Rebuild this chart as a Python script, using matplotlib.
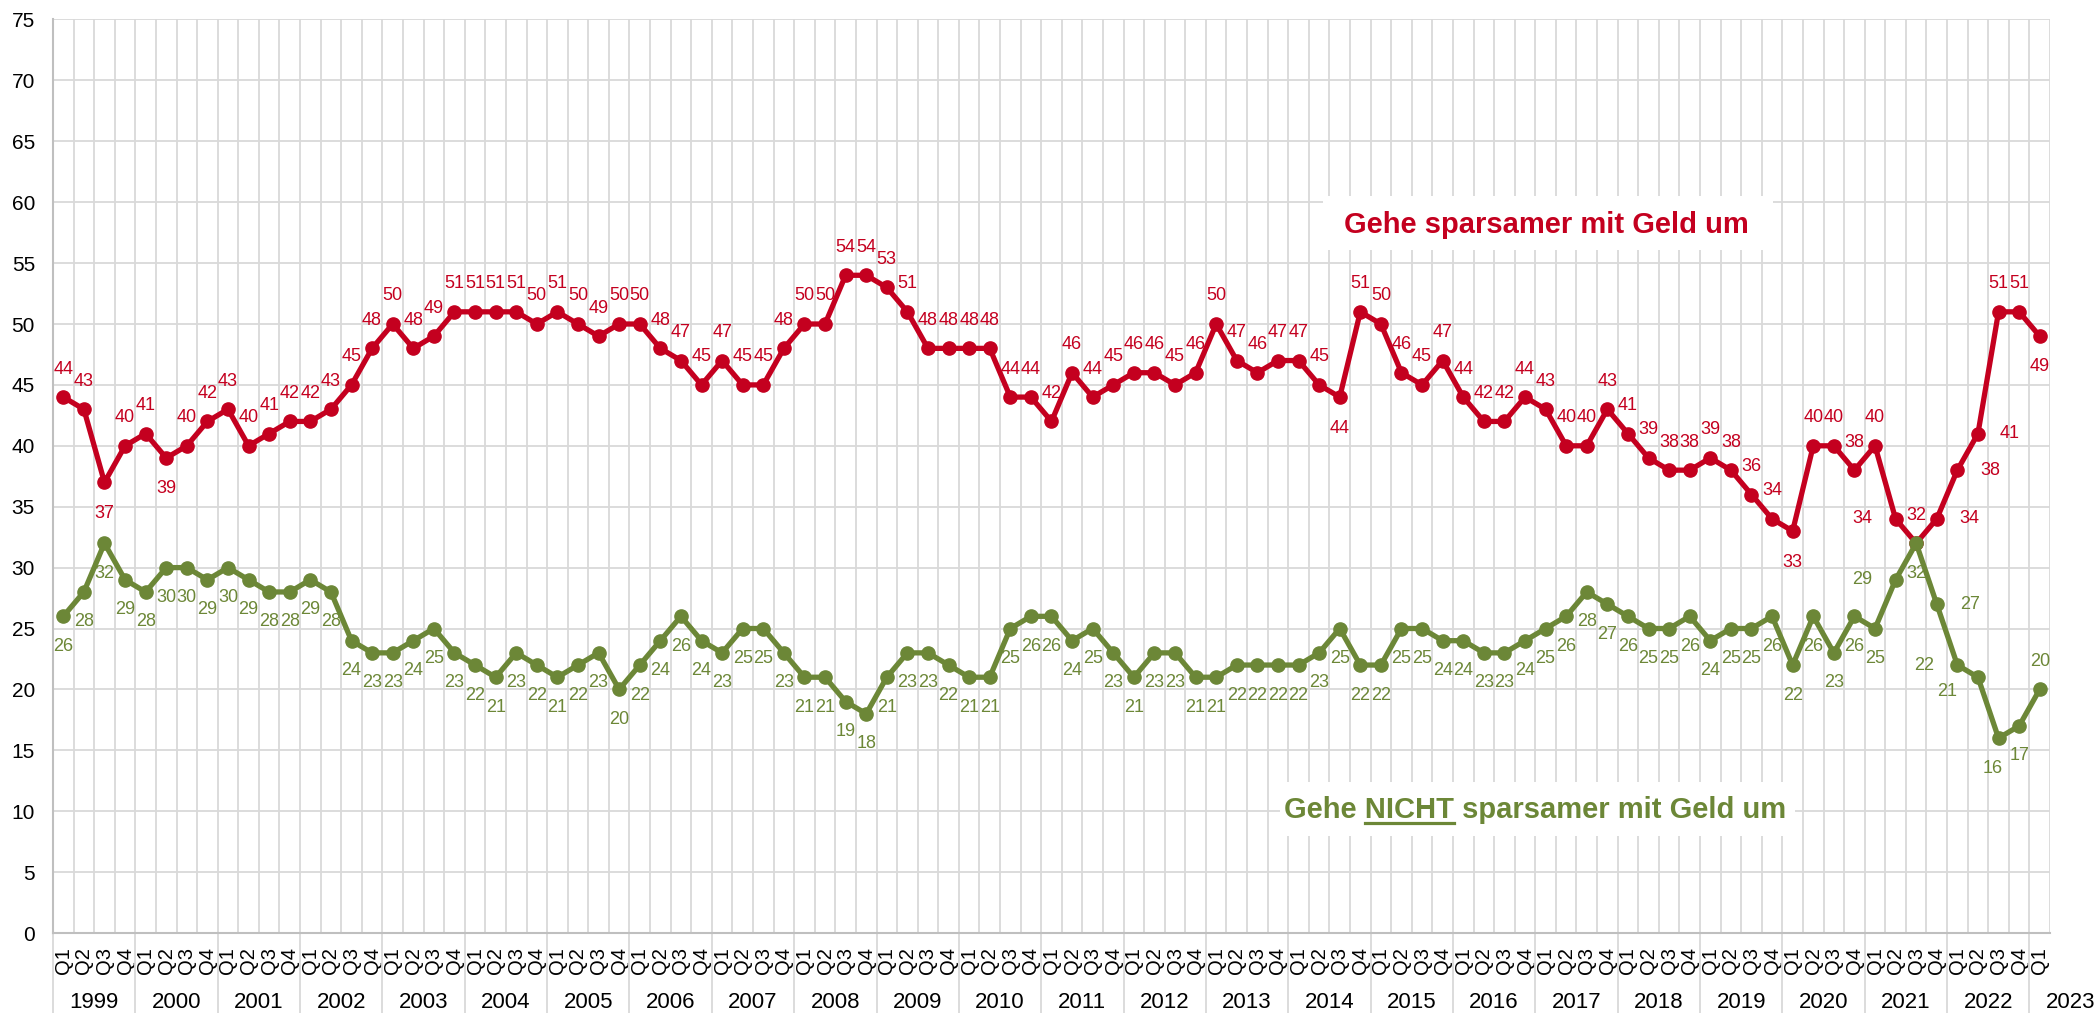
import numpy as np
import matplotlib
matplotlib.use("Agg")
import matplotlib.pyplot as plt
import matplotlib.transforms as mtransforms
from matplotlib.patches import Rectangle

plt.rcParams['font.family'] = ['Liberation Sans', 'DejaVu Sans']

# quarters 1999 Q1 .. 2023 Q1
years = list(range(1999, 2024))
quarter_labels = ['Q1', 'Q2', 'Q3', 'Q4']

sparsamer = [44, 43, 37, 40,  41, 39, 40, 42,  43, 40, 41, 42,  42, 43, 45, 48,
             50, 48, 49, 51,  51, 51, 51, 50,  51, 50, 49, 50,  50, 48, 47, 45,
             47, 45, 45, 48,  50, 50, 54, 54,  53, 51, 48, 48,  48, 48, 44, 44,
             42, 46, 44, 45,  46, 46, 45, 46,  50, 47, 46, 47,  47, 45, 44, 51,
             50, 46, 45, 47,  44, 42, 42, 44,  43, 40, 40, 43,  41, 39, 38, 38,
             39, 38, 36, 34,  33, 40, 40, 38,  40, 34, 32, 34,  38, 41, 51, 51,
             49]
nicht_sparsamer = [26, 28, 32, 29,  28, 30, 30, 29,  30, 29, 28, 28,  29, 28, 24, 23,
                   23, 24, 25, 23,  22, 21, 23, 22,  21, 22, 23, 20,  22, 24, 26, 24,
                   23, 25, 25, 23,  21, 21, 19, 18,  21, 23, 23, 22,  21, 21, 25, 26,
                   26, 24, 25, 23,  21, 23, 23, 21,  21, 22, 22, 22,  22, 23, 25, 22,
                   22, 25, 25, 24,  24, 23, 23, 24,  25, 26, 28, 27,  26, 25, 25, 26,
                   24, 25, 25, 26,  22, 26, 23, 26,  25, 29, 32, 27,  22, 21, 16, 17,
                   20]

red = '#C4001F'
green = '#6C8737'
grid_c = '#D9D9D9'

W, H = 2098, 1013
fig = plt.figure(figsize=(W / 100, H / 100), dpi=100)
ax = fig.add_axes([53 / W, 1 - 933 / H, (2050 - 53) / W, (933 - 19.5) / H])

n = len(sparsamer)
x = np.arange(n)
labels = [quarter_labels[i % 4] for i in range(n)]

ax.plot(x, sparsamer, '-o', color=red, lw=3.8, ms=9.5, zorder=3, clip_on=False)
ax.plot(x, nicht_sparsamer, '-o', color=green, lw=3.8, ms=9.5, zorder=3, clip_on=False)

# data labels (pixel offsets), a few moved by hand like in the original
red_off = {2: (0, -31), 5: (0, -31), 62: (0, -31), 84: (0, -31), 96: (0, -30),
           89: (-33, 0), 91: (33, 0), 92: (33, 0), 93: (32, 0)}
green_off = {96: (0, 28), 89: (-33, 0), 91: (33, 0), 92: (-33, 0),
             93: (-31, -14), 94: (-6, -30)}
for i in range(n):
    dx, dy = red_off.get(i, (0, 28))
    ax.annotate(str(sparsamer[i]), (x[i], sparsamer[i]), xytext=(dx, dy),
                textcoords='offset pixels', ha='center', va='center',
                color=red, fontsize=13, zorder=4)
    dx, dy = green_off.get(i, (0, -30))
    ax.annotate(str(nicht_sparsamer[i]), (x[i], nicht_sparsamer[i]), xytext=(dx, dy),
                textcoords='offset pixels', ha='center', va='center',
                color=green, fontsize=13, zorder=4)

ax.set_xlim(-0.5, n - 0.5)
ax.set_ylim(0, 75)
ax.set_yticks(np.arange(0, 80, 5))
ax.set_xticks(x)
ax.set_xticklabels(labels, rotation=90)
ax.set_xticks(np.arange(-0.5, n, 1), minor=True)
ax.tick_params(axis='y', length=0, pad=13, labelsize=15, labelcolor='black')
ax.tick_params(axis='x', which='both', length=0, pad=10, labelsize=14.5)
ax.grid(axis='y', which='major', color=grid_c, lw=1.3, zorder=0)
ax.grid(axis='x', which='minor', color=grid_c, lw=1.3, zorder=0)
ax.set_axisbelow(True)
for s in ['top', 'right']:
    ax.spines[s].set_visible(False)
for s in ['left', 'bottom']:
    ax.spines[s].set_color('#BFBFBF')
    ax.spines[s].set_linewidth(1.5)

# year groups under the quarter labels
trans = mtransforms.blended_transform_factory(ax.transData, fig.transFigure)
for k, yr in enumerate(years):
    start = k * 4
    ax.plot([start - 0.5, start - 0.5], [1 - 933 / H, 0], transform=trans,
            color=grid_c, lw=1.3, clip_on=False)
    ax.text(start + 1.5, 1 - 1002 / H, str(yr), transform=trans, ha='center',
            va='center', fontsize=16, color='black')

# text boxes
fig.patches.append(Rectangle((1323 / W, 1 - 250 / H), 450 / W, 54 / H,
                             transform=fig.transFigure, facecolor='white',
                             edgecolor='none', zorder=5))
fig.patches.append(Rectangle((1280 / W, 1 - 836 / H), 515 / W, 54 / H,
                             transform=fig.transFigure, facecolor='white',
                             edgecolor='none', zorder=5))

fig.text(1546 / W, 1 - 233 / H, 'Gehe sparsamer mit Geld um', ha='center',
         va='baseline', fontsize=21, fontweight='bold', color=red, zorder=6)

t2 = fig.text(1535.5 / W, 1 - 818 / H, 'Gehe NICHT sparsamer mit Geld um',
              ha='center', va='baseline', fontsize=21, fontweight='bold',
              color=green, zorder=6)

# underline "NICHT"
fig.canvas.draw()
r = fig.canvas.get_renderer()
tmp_a = fig.text(0, 0, 'Gehe NICHT', fontsize=21, fontweight='bold')
tmp_b = fig.text(0, 0, 'NICHT', fontsize=21, fontweight='bold')
wa = tmp_a.get_window_extent(r).width
wb = tmp_b.get_window_extent(r).width
tmp_a.remove()
tmp_b.remove()
x0 = t2.get_window_extent(r).x0
ul_y = 1 - 823 / H
fig.add_artist(plt.Line2D([(x0 + wa - wb) / W, (x0 + wa) / W], [ul_y, ul_y],
                          transform=fig.transFigure, color=green, lw=2.3, zorder=6))

fig.savefig('out.png', dpi=100)
